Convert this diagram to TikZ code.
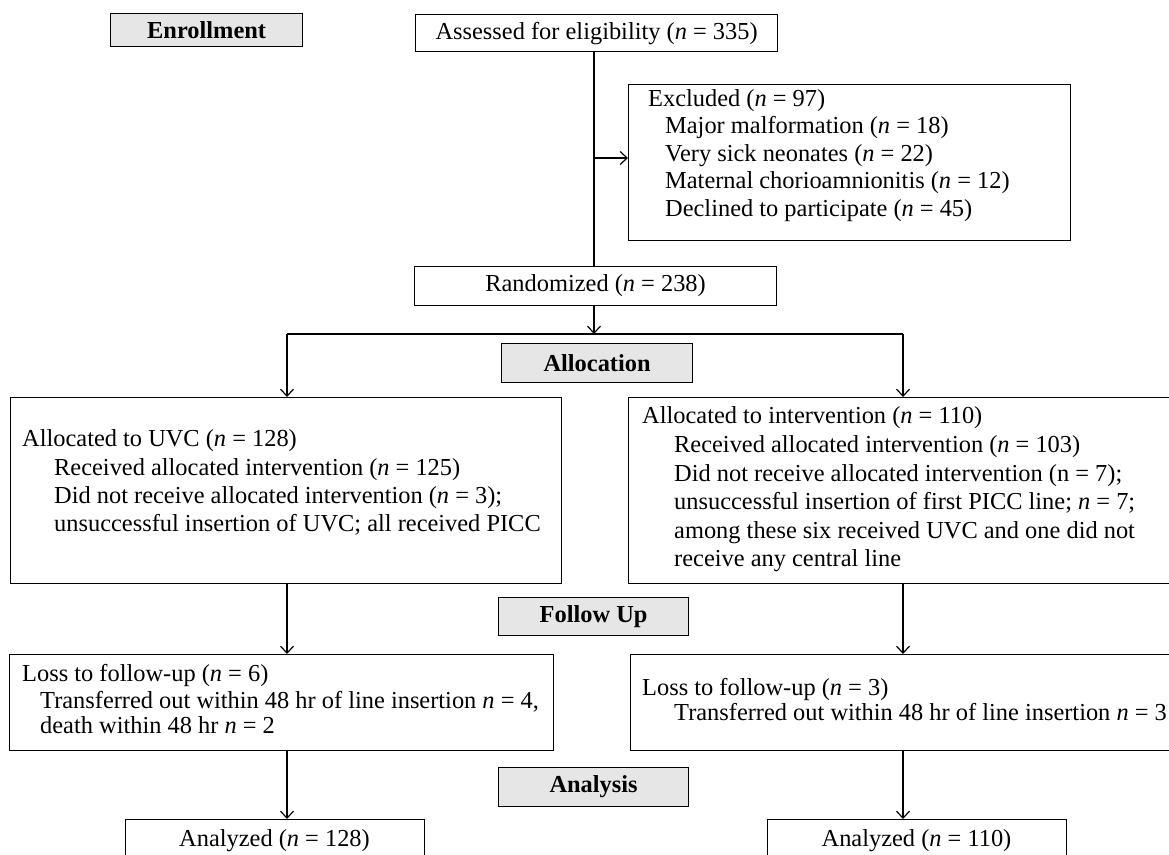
\documentclass[tikz,border=0pt]{standalone}
\usepackage{fontspec}
\setmainfont{Liberation Serif}
\usetikzlibrary{arrows.meta}
\definecolor{hdrgray}{RGB}{230,230,230}
\begin{document}
\begin{tikzpicture}[x=1pt,y=-1pt,
  every node/.style={font=\fontsize{24.4}{28}\selectfont},
  box/.style={draw=black, line width=1.2pt, inner sep=0pt, anchor=north west},
  hdr/.style={box, fill=hdrgray, font=\fontsize{24.4}{28}\selectfont\bfseries},
  txt/.style={inner sep=0pt, anchor=base west},
  conn/.style={draw=black, line width=1.2pt},
  arr/.style={conn, -{Straight Barb[length=7pt,width=13pt,line width=1.2pt]}}
]
\clip (0,0) rectangle (1169,854);
\fill[white] (0,0) rectangle (1169,854);

% headers
\node[hdr, minimum width=192pt, minimum height=33pt] (enr) at (110,13) {Enrollment};
\node[hdr, minimum width=191pt, minimum height=39pt] (alc) at (501,343) {Allocation};
\node[hdr, minimum width=190pt, minimum height=38pt] (fol) at (498,597) {Follow Up};
\node[hdr, minimum width=190pt, minimum height=39pt] (ana) at (498,767) {Analysis};

% top boxes
\node[box, minimum width=362pt, minimum height=37pt] (ass) at (415,14) {Assessed for eligibility (\textit{n} = 335)};
\node[box, minimum width=362pt, minimum height=39pt] (ran) at (414,266) {Randomized (\textit{n} = 238)};

% excluded
\node[box, minimum width=442pt, minimum height=156pt] (exc) at (628,84) {};
\node[txt] (e1) at (648,106) {Excluded (\textit{n} = 97)};
\node[txt] (e2) at (665,133.5) {Major malformation (\textit{n} = 18)};
\node[txt] (e3) at (665,161) {Very sick neonates (\textit{n} = 22)};
\node[txt] (e4) at (665,188.5) {Maternal chorioamnionitis (\textit{n} = 12)};
\node[txt] (e5) at (665,216) {Declined to participate (\textit{n} = 45)};

% allocation boxes
\node[box, minimum width=551pt, minimum height=186pt] (al) at (10,397) {};
\node[txt] (l1) at (22,446) {Allocated to UVC (\textit{n} = 128)};
\node[txt] (l2) at (54,475) {Received allocated intervention (\textit{n} = 125)};
\node[txt] (l3) at (54,503) {Did not receive allocated intervention (\textit{n} = 3);};
\node[txt] (l4) at (54,531) {unsuccessful insertion of UVC; all received PICC};

\node[box, minimum width=580pt, minimum height=186pt] (ar) at (628,397) {};
\node[txt] (r1) at (642,423) {Allocated to intervention (\textit{n} = 110)};
\node[txt] (r2) at (674,452) {Received allocated intervention (\textit{n} = 103)};
\node[txt] (r3) at (674,481) {Did not receive allocated intervention (n = 7);};
\node[txt] (r4) at (674,509) {unsuccessful insertion of first PICC line; \textit{n} = 7;};
\node[txt] (r5) at (674,538) {among these six received UVC and one did not};
\node[txt] (r6) at (674,566) {receive any central line};

% follow-up boxes
\node[box, minimum width=544pt, minimum height=96pt] (fl) at (9,654) {};
\node[txt] (f1) at (22,681) {Loss to follow-up (\textit{n} = 6)};
\node[txt] (f2) at (40,708) {Transferred out within 48 hr of line insertion \textit{n} = 4,};
\node[txt] (f3) at (40,733) {death within 48 hr \textit{n} = 2};

\node[box, minimum width=580pt, minimum height=96pt] (fr) at (630,654) {};
\node[txt] (g1) at (642,695) {Loss to follow-up (\textit{n} = 3)};
\node[txt] (g2) at (674,720) {Transferred out within 48 hr of line insertion \textit{n} = 3};

% analyzed
\node[box, minimum width=299pt, minimum height=60pt] (anl) at (125,819) {};
\node[inner sep=0pt, anchor=base] (anlt) at (274.5,846) {Analyzed (\textit{n} = 128)};
\node[box, minimum width=299pt, minimum height=60pt] (anr) at (767,819) {};
\node[inner sep=0pt, anchor=base] (anrt) at (916.5,846) {Analyzed (\textit{n} = 110)};

% connectors
\coordinate (jx2) at (594,158);
\coordinate (hl) at (287,334);
\coordinate (hr) at (903,334);
\coordinate (hm) at (594,334);
\draw[conn] (ass.south -| jx2) -- (ran.north -| jx2);
\draw[arr] (jx2) -- (jx2 -| exc.west);
\draw[arr] (ran.south -| hm) -- (hm);
\draw[conn] (hl) -- (hr);
\draw[arr] (hl) -- (hl |- al.north);
\draw[arr] (hr) -- (hr |- ar.north);
\draw[arr] (al.south -| hl) -- (fl.north -| hl);
\draw[arr] (ar.south -| hr) -- (fr.north -| hr);
\draw[arr] (fl.south -| hl) -- (anl.north -| hl);
\draw[arr] (fr.south -| hr) -- (anr.north -| hr);
\end{tikzpicture}
\end{document}
